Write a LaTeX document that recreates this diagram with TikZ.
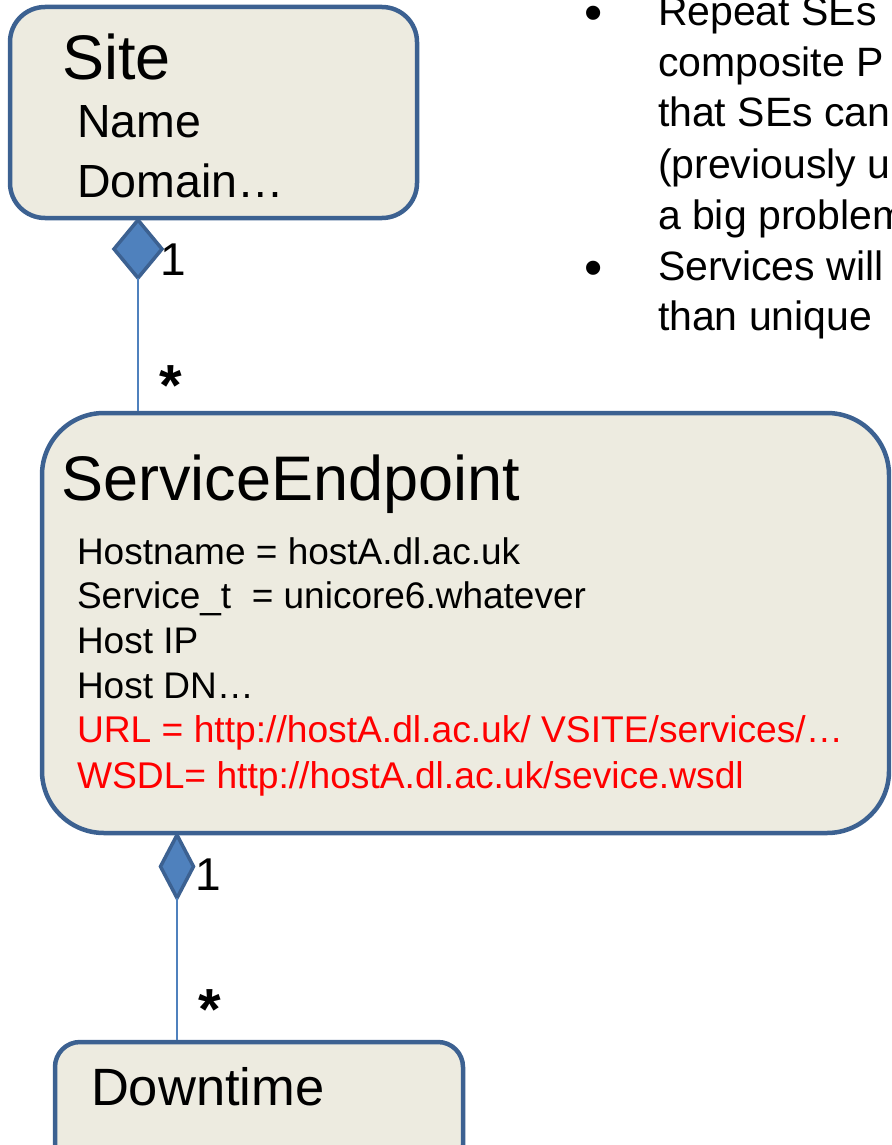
\documentclass[tikz,border=0pt]{standalone}
\usepackage{fontspec}
\setmainfont{Liberation Sans}
\usetikzlibrary{shapes.geometric}
\definecolor{boxfill}{HTML}{EDEBE0}
\definecolor{boxline}{HTML}{3C6191}
\definecolor{dfill}{HTML}{4F81BD}
\definecolor{linkc}{HTML}{4F81BD}
\definecolor{redtxt}{HTML}{FF0000}
\newcommand{\fsz}[1]{\fontsize{#1}{#1}\selectfont}
\begin{document}
\begin{tikzpicture}[x=1pt,y=-1pt,
  umlbox/.style={draw=boxline, fill=boxfill, line width=4.5pt, inner sep=0pt},
  txt/.style={anchor=base west, inner sep=0pt, outer sep=0pt, text=black},
  redt/.style={txt, text=redtxt},
  star/.style={anchor=north, inner sep=0pt, outer sep=0pt, font=\fsz{58}\bfseries},
  bul/.style={anchor=north, inner sep=0pt, outer sep=0pt, font=\fsz{52}},
  comp/.style={diamond, draw=boxline, fill=dfill, line width=3.5pt, inner sep=0pt, outer sep=0pt},
  assoc/.style={draw=linkc, line width=2.2pt},
  ]
\useasboundingbox (0,0) rectangle (891,1145);
\clip (0,0) rectangle (891,1145);

% boxes
\node[umlbox, rounded corners=35pt, minimum width=407pt, minimum height=211pt] (site) at (213.5,112.5) {};
\node[umlbox, rounded corners=62pt, minimum width=847pt, minimum height=420pt] (se) at (465.5,623) {};
\node[umlbox, rounded corners=25pt, minimum width=408pt, minimum height=128pt] (dt) at (259,1106) {};

% composition diamonds
\node[comp, minimum width=48pt, minimum height=58pt] (d1) at (138,249) {};
\node[comp, minimum width=33pt, minimum height=63pt] (d2) at (177,866.5) {};

% connectors
\draw[assoc] (d1.south) -- (d1.south |- se.north);
\draw[assoc] (d2.south) -- (d2.south |- dt.north);

% multiplicities
\node[txt, font=\fsz{46}] (m1) at (160,275) {1};
\node[star] (s1) at (171,366) {*};
\node[txt, font=\fsz{46}] (m2) at (195,890) {1};
\node[star] (s2) at (210,990) {*};

% Site text
\node[txt, font=\fsz{63}] (sitet) at (62,80) {Site};
\node[txt, font=\fsz{46.5}] (site1) at (77,138) {Name};
\node[txt, font=\fsz{46.5}] (site2) at (77,197) {Domain…};

% ServiceEndpoint text
\node[txt, font=\fsz{63}] (set) at (61,500) {ServiceEndpoint};
\node[txt, font=\fsz{37}] (se1) at (77,564) {Hostname = hostA.dl.ac.uk};
\node[txt, font=\fsz{37}] (se2) at (77,608) {Service\_t\ \ = unicore6.whatever};
\node[txt, font=\fsz{37}] (se3) at (77,653) {Host IP};
\node[txt, font=\fsz{37}] (se4) at (77,698) {Host DN…};
\node[redt, font=\fsz{37.2}] (se5) at (77,742) {URL = http://hostA.dl.ac.uk/ VSITE/services/…};
\node[redt, font=\fsz{37.2}] (se6) at (77,788) {WSDL= http://hostA.dl.ac.uk/sevice.wsdl};

% Downtime text
\node[txt, font=\fsz{52.5}] (dtt) at (91,1105) {Downtime};

% bullet text (clipped at right edge)
\node[bul] (bu1) at (593.5,6) {•};
\node[bul] (bu2) at (593.5,261) {•};
\node[txt, font=\fsz{41}] (t1) at (658,26) {Repeat SEs};
\node[txt, font=\fsz{41}] (t2) at (658,77) {composite P};
\node[txt, font=\fsz{41}] (t3) at (658,127) {that SEs can};
\node[txt, font=\fsz{41}] (t4) at (658,178) {(previously u};
\node[txt, font=\fsz{41}] (t5) at (658,229) {a big problem};
\node[txt, font=\fsz{41}] (t6) at (658,280) {Services will};
\node[txt, font=\fsz{41}] (t7) at (658,330) {than unique};
\end{tikzpicture}
\end{document}
